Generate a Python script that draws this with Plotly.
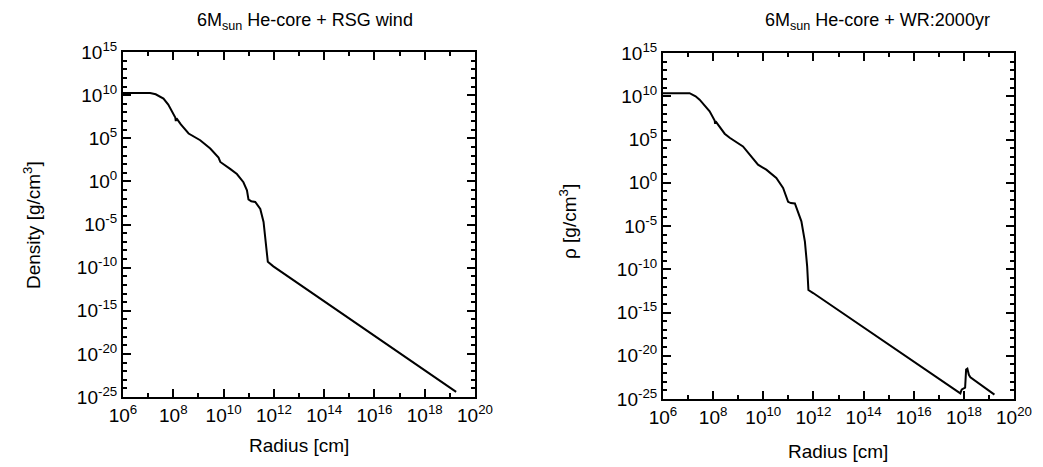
import plotly.graph_objects as go

# log10(radius [cm]) and log10(density [g/cm^3])
rsg_logr = [6.0, 7.08, 7.3, 7.61, 7.8, 7.95, 8.08, 8.1, 8.13, 8.3, 8.48, 8.61, 9.07, 9.47, 9.8, 9.87,
            10.26, 10.53, 10.79, 10.93, 10.99, 11.1, 11.26, 11.46, 11.59, 11.65, 11.72, 11.76, 11.98,
            15.5, 19.25]
rsg_logrho = [10.25, 10.25, 10.1, 9.6, 8.9, 8.05, 7.4, 7.0, 7.3, 6.6, 5.93, 5.55, 4.77, 3.81, 2.76, 2.25,
              1.45, 0.85, -0.1, -1.03, -2.1, -2.3, -2.38, -3.2, -4.7, -6.44, -7.98, -9.33, -9.85,
              -16.9, -24.4]

wr_logr = [6.0, 7.06, 7.3, 7.46, 7.86, 8.06, 8.08, 8.1, 8.46, 8.66, 9.19, 9.79, 10.12, 10.52, 10.79,
           10.99, 11.1, 11.26, 11.52, 11.66, 11.75, 11.8, 11.99, 14.9, 17.86, 17.9, 17.92, 18.05, 18.09,
           18.14, 18.2, 18.26, 19.22]
wr_logrho = [10.35, 10.35, 10.0, 9.6, 8.26, 7.2, 6.8, 7.1, 5.67, 5.2, 4.2, 2.09, 1.51, 0.55, -0.6,
             -2.2, -2.35, -2.4, -4.46, -6.8, -9.66, -12.4, -12.75, -18.5, -24.35, -24.0, -23.9, -23.7, -21.6,
             -21.5, -22.2, -22.5, -24.5]

titles = ["6M<sub>sun</sub> He-core + RSG wind", "6M<sub>sun</sub> He-core + WR:2000yr"]
ytitles = ["Density [g/cm<sup>3</sup>]", "ρ [g/cm<sup>3</sup>]"]
xtitle = "Radius [cm]"

x_exps = list(range(6, 21, 2))
x_minor_exps = list(range(7, 20, 2))
y_exps = list(range(-25, 16, 5))
y_minor_exps = [e for e in range(-25, 16) if e % 5 != 0]

FONT = "Liberation Sans, Arial, Helvetica, sans-serif"
W, H, OFF = 1043, 467, 8  # page body margin offset


def px(x):
    return (x - OFF) / W


def py(y):
    return 1 - (y - OFF) / H


fig = go.Figure()
fig.add_trace(go.Scatter(x=[10 ** v for v in rsg_logr], y=[10 ** v for v in rsg_logrho],
                         mode="lines", line=dict(color="black", width=2), xaxis="x", yaxis="y",
                         showlegend=False))
fig.add_trace(go.Scatter(x=[10 ** v for v in wr_logr], y=[10 ** v for v in wr_logrho],
                         mode="lines", line=dict(color="black", width=2), xaxis="x2", yaxis="y2",
                         showlegend=False))


def xaxis(domain, anchor):
    return dict(domain=domain, anchor=anchor, type="log", range=[6, 20], automargin=False,
                tickmode="array", tickvals=[10.0 ** e for e in x_exps],
                ticktext=[f"10<sup>{e}</sup>" for e in x_exps],
                ticks="inside", ticklen=8, tickwidth=2, tickcolor="black",
                minor=dict(tickmode="array", tickvals=[10.0 ** e for e in x_minor_exps],
                           ticks="inside", ticklen=4, tickwidth=2, tickcolor="black", showgrid=False),
                showline=True, linewidth=2, linecolor="black", mirror="ticks",
                showgrid=False, zeroline=False,
                tickfont=dict(family=FONT, size=19, color="black"))


def yaxis(domain, anchor):
    return dict(domain=domain, anchor=anchor, type="log", range=[-25, 15], automargin=False,
                tickmode="array", tickvals=[10.0 ** e for e in y_exps],
                ticktext=[f"10<sup>{e}</sup>" for e in y_exps],
                ticks="inside", ticklen=8, tickwidth=2, tickcolor="black",
                minor=dict(tickmode="array", tickvals=[10.0 ** e for e in y_minor_exps],
                           ticks="inside", ticklen=4, tickwidth=2, tickcolor="black", showgrid=False),
                showline=True, linewidth=2, linecolor="black", mirror="ticks",
                showgrid=False, zeroline=False,
                tickfont=dict(family=FONT, size=19, color="black"))


fig.update_layout(
    template="none",
    width=W, height=H,
    margin=dict(l=0, r=0, t=0, b=0, pad=0),
    paper_bgcolor="white", plot_bgcolor="white",
    xaxis=xaxis([px(123), px(475)], "y"),
    yaxis=yaxis([py(397), py(52)], "x"),
    xaxis2=xaxis([px(663), px(1014)], "y2"),
    yaxis2=yaxis([py(399), py(53)], "x2"),
    font=dict(family=FONT, color="black"),
    showlegend=False,
)

ann = []
for cx, t in zip([305, 877], titles):
    ann.append(dict(text=t, x=px(cx), y=py(8), xref="paper", yref="paper",
                    xanchor="center", yanchor="top",
                    showarrow=False, font=dict(size=18, family=FONT, color="black")))
for cx, cy in zip([299, 838], [445, 451]):
    ann.append(dict(text=xtitle, x=px(cx), y=py(cy), xref="paper", yref="paper",
                    xanchor="center", yanchor="middle",
                    showarrow=False, font=dict(size=19, family=FONT, color="black")))
for cx, cy, t in zip([32, 568], [225, 222], ytitles):
    ann.append(dict(text=t, x=px(cx), y=py(cy), xref="paper", yref="paper",
                    xanchor="center", yanchor="middle",
                    showarrow=False, textangle=-90, font=dict(size=19, family=FONT, color="black")))
fig.update_layout(annotations=ann)

fig.write_html("out.html")
